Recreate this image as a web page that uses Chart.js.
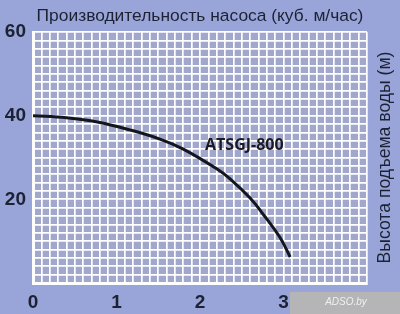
<!DOCTYPE html>
<html>
<head>
<meta charset="utf-8">
<script src="https://cdn.jsdelivr.net/npm/chart.js@4"></script>
<style>
  html, body { margin: 0; padding: 0; background: #99a5d8; }
  #wrap { width: 400px; height: 314px; }
</style>
</head>
<body>
<div id="wrap"><canvas id="pumpChart" width="400" height="314"></canvas></div>
<script>
// ============= Dados =============
const titulo = "Производительность насоса (куб. м/час)";
const tituloY = "Высота подъема воды (м)";
const modelo = "ATSGJ-800";
const marca = "ADSO.by";

// curva Q-H (м³/час -> м)
const vazao = [0, 0.4, 0.77, 1.16, 1.52, 1.8, 2.2, 2.36, 2.6, 2.75, 2.96, 3.08];
const altura = [40.0, 39.5, 38.5, 36.6, 34.4, 32.0, 27.3, 24.9, 20.3, 16.6, 10.8, 6.2];

const xTicks = [0, 1, 2, 3];
const yTicks = [20, 40, 60];

const labelPos = { x: 2.06, y: 32.8 };

// ============= Plugin de textos =============
const textos = {
  id: "textos",
  beforeDraw(chart) {
    const { ctx, chartArea: a } = chart;
    ctx.save();
    ctx.fillStyle = "#a1a8cc";
    ctx.fillRect(a.left, a.top, a.right - a.left, a.bottom - a.top);
    ctx.restore();
  },
  afterDraw(chart) {
    const { ctx, chartArea: a, scales } = chart;
    ctx.save();
    ctx.fillStyle = "#1c2233";
    ctx.font = "17.4px 'Liberation Sans', Arial, sans-serif";
    ctx.textAlign = "center";
    ctx.textBaseline = "middle";
    ctx.fillText(titulo, 200, 16);

    ctx.translate(385, (a.top + a.bottom) / 2);
    ctx.rotate(-Math.PI / 2);
    ctx.font = "17.6px 'Liberation Sans', Arial, sans-serif";
    ctx.fillText(tituloY, 0, 0);
    ctx.restore();

    ctx.save();
    ctx.fillStyle = "#1a1a22";
    ctx.font = "bold 16px 'Open Sans', sans-serif";
    ctx.textAlign = "left";
    ctx.textBaseline = "middle";
    ctx.fillText(modelo, scales.x.getPixelForValue(labelPos.x), scales.y.getPixelForValue(labelPos.y));

    // marca d'água
    ctx.fillStyle = "#b5b5b7";
    ctx.fillRect(290, 292, 110, 22);
    ctx.fillStyle = "rgba(255,255,255,0.8)";
    ctx.font = "italic 10px 'Liberation Sans', sans-serif";
    ctx.textAlign = "center";
    ctx.fillText(marca, 346, 302);
    ctx.restore();
  },
};

new Chart(document.getElementById("pumpChart"), {
  type: "line",
  data: {
    datasets: [
      {
        data: vazao.map((x, i) => ({ x, y: altura[i] })),
        borderColor: "#14161d",
        borderWidth: 3,
        pointRadius: 0,
        tension: 0.4,
        fill: false,
      },
    ],
  },
  options: {
    responsive: false,
    animation: false,
    layout: { padding: { top: 32, right: 0, bottom: 0, left: 0 } },
    plugins: { legend: { display: false }, tooltip: { enabled: false } },
    scales: {
      x: {
        type: "linear",
        min: 0,
        max: 4,
        afterBuildTicks(s) {
          const t = [];
          for (let i = 0; i <= 40; i++) t.push({ value: i / 10 });
          s.ticks = t;
        },
        afterFit(s) { s.height = 31; },
        grid: { color: "#ffffff", lineWidth: 1.7, drawTicks: false },
        border: { color: "#ffffff", width: 3 },
        ticks: {
          autoSkip: false,
          maxRotation: 0,
          padding: 8,
          color: "#1c2233",
          font: { family: "'Liberation Sans', Arial", size: 19, weight: "bold" },
          callback: (v) => (xTicks.includes(Math.round(v * 10) / 10) ? String(Math.round(v)) : ""),
        },
      },
      y: {
        min: 0,
        max: 60,
        afterBuildTicks(s) {
          const t = [];
          for (let i = 0; i <= 30; i++) t.push({ value: i * 2 });
          s.ticks = t;
        },
        afterFit(s) { s.width = 33; },
        grid: { color: "#ffffff", lineWidth: 1.7, drawTicks: false },
        border: { color: "#ffffff", width: 3 },
        ticks: {
          autoSkip: false,
          padding: 7,
          color: "#1c2233",
          font: { family: "'Liberation Sans', Arial", size: 19, weight: "bold" },
          callback: (v) => (yTicks.includes(v) ? String(v) : ""),
        },
      },
      y2: {
        position: "right",
        min: 0,
        max: 60,
        afterFit(s) { s.width = 33; },
        grid: { display: false },
        border: { display: false },
        ticks: { display: false },
      },
    },
  },
  plugins: [textos],
});
</script>
</body>
</html>
